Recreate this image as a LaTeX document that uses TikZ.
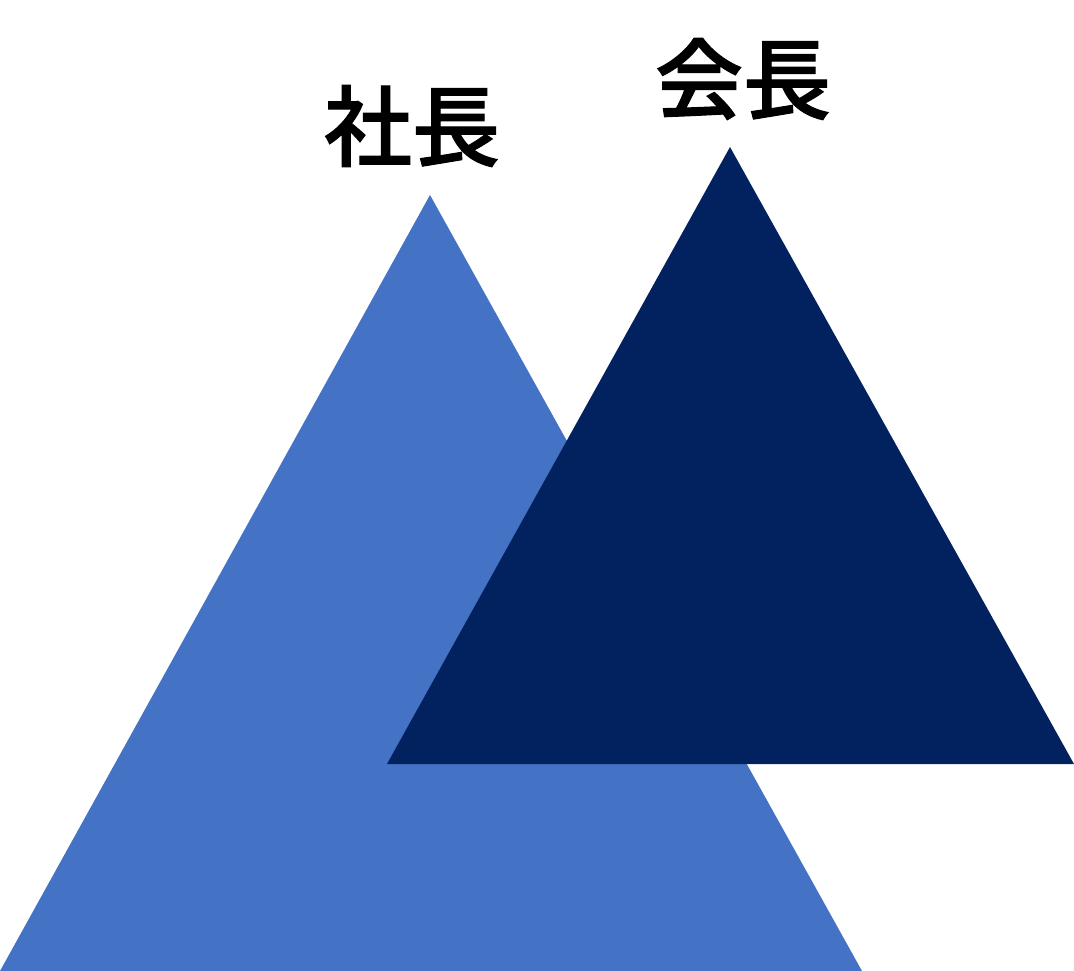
\documentclass[tikz,border=0pt]{standalone}
\usepackage{fontspec}
\newfontfamily\jpfont[FakeBold=1.2]{Noto Sans CJK JP Medium}
\definecolor{lightblue}{HTML}{4472C4}
\definecolor{darkblue}{HTML}{02215F}

\begin{document}
\begin{tikzpicture}[
		x=1pt, y=-1pt,
		label/.style={font=\jpfont\fontsize{88}{90}\selectfont, inner sep=0pt},
	]
		\useasboundingbox (0,0) rectangle (1074,971);
		% light triangle
		\coordinate (sa) at (430,195);
		\coordinate (sl) at (0,971);
		\coordinate (sr) at (862,971);
		\fill[lightblue] (sa) -- (sl) -- (sr) -- cycle;
		% dark triangle
		\coordinate (ka) at (730,147);
		\coordinate (kl) at (387,764);
		\coordinate (kr) at (1074,764);
		\fill[darkblue] (ka) -- (kl) -- (kr) -- cycle;
		
		\node[label] (shacho) at (412,126) {社長};
		\node[label] (kaicho) at (743,79) {会長};
	\end{tikzpicture}
\end{document}
